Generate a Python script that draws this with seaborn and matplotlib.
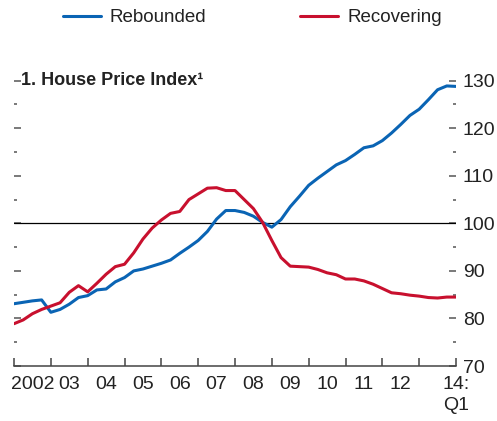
import numpy as np
import pandas as pd
import matplotlib
matplotlib.use("Agg")
import matplotlib.pyplot as plt
from matplotlib.ticker import MultipleLocator
import seaborn as sns

# quarterly data 2002Q1 .. 2014Q1
quarters = np.arange(49)
rebounded = [83.1, 83.4, 83.7, 83.9, 81.3, 81.9, 83.0, 84.4, 84.8, 86.0,
             86.2, 87.7, 88.6, 90.0, 90.4, 91.0, 91.6, 92.3, 93.7, 95.0,
             96.4, 98.3, 100.9, 102.7, 102.7, 102.3, 101.5, 100.2, 99.2, 100.8,
             103.5, 105.7, 108.0, 109.5, 110.9, 112.3, 113.2, 114.5, 115.9, 116.3,
             117.4, 119.0, 120.8, 122.7, 124.0, 126.0, 128.1, 128.9, 128.8]
recovering = [78.9, 79.7, 81.0, 81.9, 82.6, 83.3, 85.5, 86.9, 85.6, 87.4,
              89.3, 90.9, 91.4, 93.8, 96.7, 99.0, 100.7, 102.1, 102.5, 105.0,
              106.2, 107.4, 107.5, 106.9, 106.9, 105.0, 103.1, 100.2, 96.4, 92.8,
              91.0, 90.9, 90.8, 90.3, 89.6, 89.2, 88.3, 88.3, 87.9, 87.2,
              86.3, 85.4, 85.2, 84.9, 84.7, 84.4, 84.3, 84.5, 84.5]
year_labels = ["2002", "03", "04", "05", "06", "07", "08", "09", "10", "11", "12"]
last_label = "14:\nQ1"

sns.set_theme(style="white")
plt.rcParams['font.family'] = ['Liberation Sans', 'DejaVu Sans']
txt = "#222222"
fs = 14

t = 2002 + quarters / 4
df = pd.DataFrame({
    "t": np.concatenate([t, t]),
    "value": rebounded + recovering,
    "series": ["Rebounded"] * len(t) + ["Recovering"] * len(t),
})

fig = plt.figure(figsize=(4.97, 4.21), dpi=100)
ax = fig.add_axes([0.0282, 0.1306, 0.8893, 0.6777])

sns.lineplot(data=df, x="t", y="value", hue="series",
             palette={"Rebounded": "#0A64B4", "Recovering": "#C8102E"},
             linewidth=2.2, ax=ax)

ax.axhline(100, color="black", lw=0.9, zorder=1)

ax.set_xlim(2002, 2014)
ax.set_ylim(70, 130)
ax.set_xlabel("")
ax.set_ylabel("")

for s in ["left", "right", "top"]:
    ax.spines[s].set_visible(False)
ax.spines["bottom"].set_color("#444444")
ax.spines["bottom"].set_linewidth(1.1)

# y ticks on both sides, labels on the right
ax.yaxis.set_major_locator(MultipleLocator(10))
ax.yaxis.set_minor_locator(MultipleLocator(5))
ax.tick_params(axis="y", which="both", left=True, right=True,
               labelleft=False, labelright=True, direction="in",
               color="#555555", width=1.1, labelsize=fs, pad=5,
               labelcolor=txt)
ax.tick_params(axis="y", which="major", length=5.3)
ax.tick_params(axis="y", which="minor", length=2.4)

# x ticks: year boundaries as marks, labels centred in each year
ax.set_xticks(np.arange(2002, 2015))
ax.set_xticklabels([""] * 12 + [last_label])
ax.set_xticks(np.arange(2002.5, 2013), minor=True)
ax.set_xticklabels(year_labels, minor=True)
ax.tick_params(axis="x", which="major", bottom=True, direction="in",
               length=5.8, width=1.1, color="#444444", labelsize=fs,
               pad=7, labelcolor=txt)
ax.tick_params(axis="x", which="minor", bottom=True, length=0,
               labelsize=fs, pad=7, labelcolor=txt)
for lab in ax.get_xticklabels():
    lab.set_linespacing(1.35)

ax.text(0.016, 130, "1. House Price Index¹", fontsize=13, fontweight="bold",
        color=txt, va="center", ha="left",
        transform=ax.get_yaxis_transform())

handles, labels = ax.get_legend_handles_labels()
ax.get_legend().remove()
fig.legend(handles, labels, loc="center", bbox_to_anchor=(0.508, 0.958),
           ncol=2, frameon=False, fontsize=13.5, handlelength=2.0,
           handletextpad=0.5, columnspacing=5.0, labelcolor=txt)

fig.savefig("out.png", dpi=100)
